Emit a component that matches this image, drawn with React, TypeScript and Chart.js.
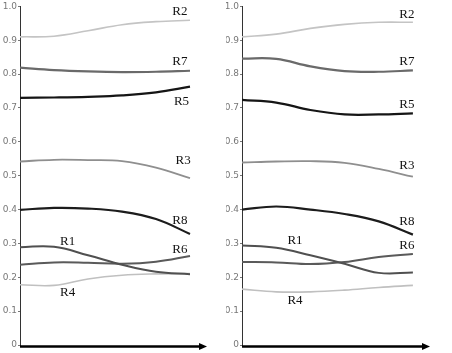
import React, { useEffect, useRef } from "react";
import { Chart, registerables } from "chart.js";
Chart.register(...registerables);

// ---- data ----
const SERIES = ["R2", "R7", "R5", "R3", "R8", "R1", "R6", "R4"];
const X_POS = [0, 0.2, 0.4, 0.6, 0.8, 1.0];
const Y_TICKS = [0, 0.1, 0.2, 0.3, 0.4, 0.5, 0.6, 0.7, 0.8, 0.9, 1.0];

const LEFT_R2 = [0.91, 0.912, 0.928, 0.946, 0.955, 0.959];
const LEFT_R7 = [0.819, 0.812, 0.808, 0.806, 0.807, 0.81];
const LEFT_R5 = [0.73, 0.731, 0.733, 0.737, 0.746, 0.763];
const LEFT_R3 = [0.542, 0.547, 0.546, 0.543, 0.524, 0.493];
const LEFT_R8 = [0.399, 0.405, 0.403, 0.394, 0.372, 0.328];
const LEFT_R1 = [0.289, 0.29, 0.265, 0.237, 0.216, 0.209];
const LEFT_R6 = [0.237, 0.244, 0.243, 0.24, 0.246, 0.263];
const LEFT_R4 = [0.178, 0.176, 0.195, 0.206, 0.21, 0.211];

const RIGHT_R2 = [0.91, 0.918, 0.935, 0.947, 0.953, 0.953];
const RIGHT_R7 = [0.846, 0.845, 0.823, 0.809, 0.807, 0.811];
const RIGHT_R5 = [0.724, 0.716, 0.694, 0.681, 0.681, 0.684];
const RIGHT_R3 = [0.539, 0.542, 0.543, 0.538, 0.52, 0.497];
const RIGHT_R8 = [0.4, 0.409, 0.4, 0.387, 0.365, 0.326];
const RIGHT_R1 = [0.294, 0.287, 0.265, 0.24, 0.213, 0.214];
const RIGHT_R6 = [0.245, 0.244, 0.239, 0.245, 0.26, 0.269];
const RIGHT_R4 = [0.165, 0.157, 0.157, 0.162, 0.17, 0.176];

const LEFT_VALUES = [LEFT_R2, LEFT_R7, LEFT_R5, LEFT_R3, LEFT_R8, LEFT_R1, LEFT_R6, LEFT_R4];
const RIGHT_VALUES = [RIGHT_R2, RIGHT_R7, RIGHT_R5, RIGHT_R3, RIGHT_R8, RIGHT_R1, RIGHT_R6, RIGHT_R4];

// ---- styles ----
const COLORS = ["#c4c4c4", "#6a6a6a", "#151515", "#8f8f8f", "#1c1c1c", "#505050", "#5a5a5a", "#c0c0c0"];
const WIDTHS = [1.6, 2.2, 2.2, 1.8, 2.2, 2, 2, 1.6];

// label anchors (data units) per series, same order as SERIES
const LEFT_LABEL_AT = [
  [0.94, 0.985], [0.94, 0.838], [0.95, 0.72], [0.96, 0.544],
  [0.94, 0.368], [0.28, 0.306], [0.94, 0.282], [0.28, 0.156],
];
const RIGHT_LABEL_AT = [
  [0.965, 0.976], [0.965, 0.838], [0.965, 0.709], [0.965, 0.529],
  [0.965, 0.365], [0.31, 0.309], [0.965, 0.294], [0.31, 0.132],
];

const overlay = {
  id: "overlay",
  afterDatasetsDraw(chart: any, _args: any, opts: any) {
    const { ctx, chartArea, scales } = chart;
    ctx.save();
    // x axis with arrow
    const y = chartArea.bottom + 1.5;
    const xEnd = chartArea.right;
    ctx.strokeStyle = "#000";
    ctx.lineWidth = 2.5;
    ctx.beginPath();
    ctx.moveTo(chartArea.left, y);
    ctx.lineTo(xEnd - 5, y);
    ctx.stroke();
    ctx.fillStyle = "#000";
    ctx.beginPath();
    ctx.moveTo(xEnd, y);
    ctx.lineTo(xEnd - 8, y - 3.5);
    ctx.lineTo(xEnd - 8, y + 3.5);
    ctx.closePath();
    ctx.fill();
    // series labels
    ctx.font = "13px 'Liberation Serif', serif";
    ctx.fillStyle = "#111";
    ctx.textAlign = "center";
    ctx.textBaseline = "middle";
    (opts.labels || []).forEach((l: any) => {
      ctx.fillText(l.text, scales.x.getPixelForValue(l.x), scales.y.getPixelForValue(l.y));
    });
    ctx.restore();
  },
};

function makeConfig(values: number[][], labelAt: number[][], axisWidth: number, padRight: number) {
  return {
    type: "line" as const,
    data: {
      datasets: SERIES.map((name, i) => ({
        label: name,
        data: X_POS.map((x, j) => ({ x, y: values[i][j] })),
        borderColor: COLORS[i],
        borderWidth: WIDTHS[i],
        pointRadius: 0,
        tension: 0.4,
        fill: false,
      })),
    },
    options: {
      responsive: false,
      animation: false as const,
      layout: { padding: { left: 0, top: 5, bottom: 8, right: padRight } },
      plugins: {
        legend: { display: false },
        tooltip: { enabled: false },
        overlay: {
          labels: SERIES.map((name, i) => ({ text: name, x: labelAt[i][0], y: labelAt[i][1] })),
        },
      },
      scales: {
        x: { type: "linear" as const, min: 0, max: 1.1, display: false },
        y: {
          type: "linear" as const,
          min: 0,
          max: 1,
          afterFit: (s: any) => {
            s.width = axisWidth;
          },
          afterBuildTicks: (s: any) => {
            s.ticks = Y_TICKS.map((v) => ({ value: v }));
          },
          grid: { drawOnChartArea: false, tickLength: 2, color: "#777", lineWidth: 1 },
          border: { display: true, color: "#333", width: 1 },
          ticks: {
            padding: 1,
            color: "#777",
            font: { size: 9, family: "'DejaVu Sans', sans-serif" },
            callback: (v: any) => (v === 0 ? "0" : Number(v).toFixed(1)),
          },
        },
      },
    },
    plugins: [overlay],
  };
}

function Panel({ values, labelAt, axisWidth, padRight, left }: any) {
  const ref = useRef<HTMLCanvasElement>(null);
  useEffect(() => {
    if (!ref.current) return;
    const chart = new Chart(ref.current, makeConfig(values, labelAt, axisWidth, padRight) as any);
    return () => chart.destroy();
  }, []);
  return (
    <canvas
      ref={ref}
      width={226}
      height={353}
      style={{ position: "absolute", left, top: 0, width: 226, height: 353 }}
    />
  );
}

export default function App() {
  return (
    <div style={{ position: "fixed", left: 0, top: 0, width: 452, height: 353, background: "#fff" }}>
      <Panel values={LEFT_VALUES} labelAt={LEFT_LABEL_AT} axisWidth={20} padRight={19} left={0} />
      <Panel values={RIGHT_VALUES} labelAt={RIGHT_LABEL_AT} axisWidth={16} padRight={22} left={226} />
    </div>
  );
}
